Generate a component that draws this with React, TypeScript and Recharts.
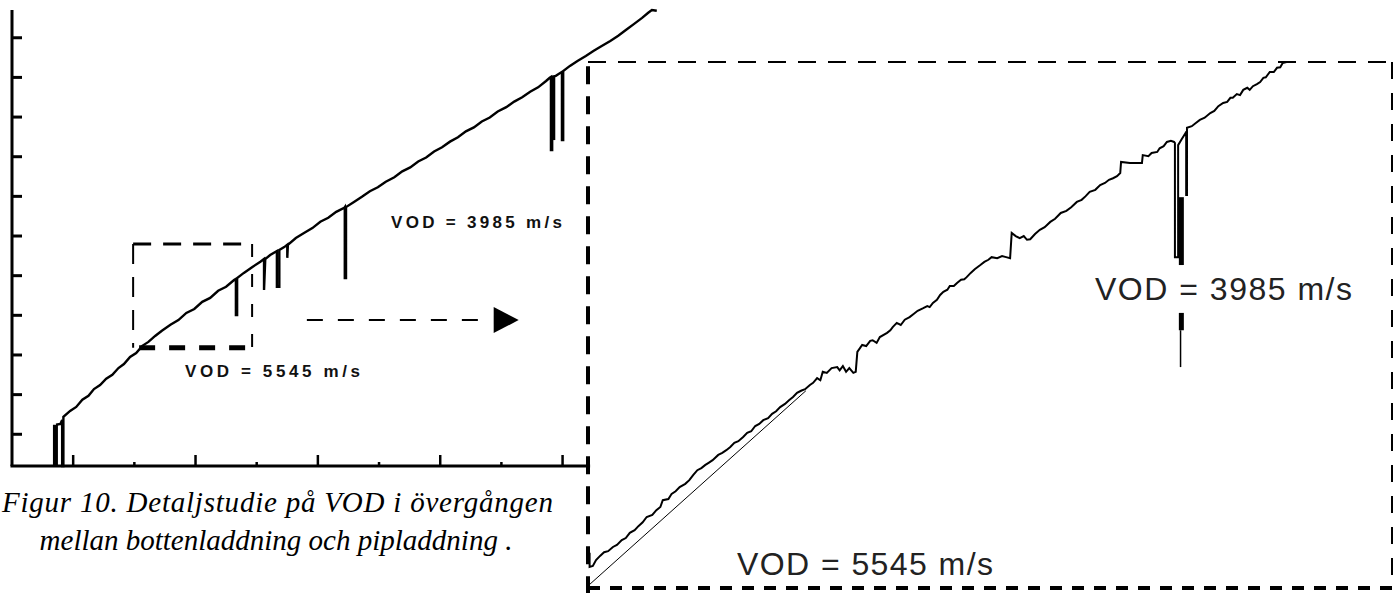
import React from "react";
import { LineChart, Line, XAxis, YAxis, ReferenceLine, ReferenceDot } from "recharts";

type Pt = [number, number];

// left panel: whole trace (time on x, probe position on y), no tick labels in the source
const xTicks = [0, 10, 20, 30, 40, 50, 60, 70, 80];
const yTicks = [10, 20, 30, 40, 50, 60, 70, 80, 90, 100, 110];

const fullTrace: Pt[] = [
  [-2.8, 12.4], [-2.1, 12.6], [-1.8, 13.6], [-1.8, 2.0], [-1.6, 2.0], [-1.6, 14.4],
  [-0.5, 15.9], [0.5, 16.9], [1.5, 18.7], [2.5, 19.7], [3.4, 21.4], [4.4, 22.4],
  [5.4, 24.0], [6.4, 25.0], [7.4, 26.7], [8.3, 27.7], [9.3, 29.5], [10.3, 30.5],
  [11.3, 32.3], [12.3, 33.3], [13.4, 34.8], [14.5, 36.1], [15.9, 37.6], [17.2, 38.8],
  [18.5, 40.6], [19.8, 41.6], [21.1, 43.4], [22.4, 44.4], [23.7, 46.2], [25.0, 47.2],
  [26.3, 48.9], [26.6, 49.2], [26.6, 40.1], [26.8, 40.1], [26.8, 49.4],
  [27.9, 50.7], [29.3, 52.2], [30.6, 53.5],
  [31.2, 54.2], [31.2, 46.4], [31.4, 54.2], [32.2, 55.2],
  [33.3, 56.2], [33.3, 47.2], [33.7, 47.2], [33.7, 56.5], [34.5, 57.2],
  [35.0, 57.8], [35.0, 54.5], [35.1, 57.8],
  [36.4, 59.5], [37.8, 60.8], [39.1, 62.0], [40.4, 63.6], [41.7, 64.6], [43.0, 66.1], [44.3, 67.1],
  [44.4, 67.3], [44.4, 49.4], [44.6, 49.4], [44.6, 67.3],
  [45.9, 68.6], [47.2, 69.9], [48.5, 71.3], [49.8, 72.3], [51.1, 73.7], [52.5, 74.8],
  [53.8, 76.3], [55.1, 77.3], [56.4, 78.8], [57.7, 79.8], [59.0, 81.3], [60.3, 82.4],
  [61.6, 83.8], [62.9, 84.9], [64.2, 86.4], [65.5, 87.4], [66.8, 88.9], [68.1, 89.9],
  [69.4, 91.4], [70.8, 92.5], [72.1, 93.9], [73.4, 95.0], [74.7, 96.4], [76.0, 97.5],
  [77.3, 99.1], [77.9, 99.9],
  [78.1, 100.1], [78.1, 81.7], [78.3, 81.7], [78.3, 100.2],
  [78.9, 100.4], [79.9, 101.4], [79.9, 84.2], [80.1, 84.2], [80.1, 101.6],
  [81.2, 102.9], [82.5, 104.2], [83.8, 105.4], [85.1, 106.7], [86.4, 107.9], [87.8, 109.2],
  [89.1, 110.5], [90.4, 112.0], [91.7, 113.5], [93.0, 115.0], [94.0, 116.3], [94.6, 117.0],
  [95.4, 116.8],
];

// solid dropouts drawn thicker than the trace
const fullTraceBars: Pt[][] = [
  [[-2.9, 2.0], [-2.9, 12.4]],
  [[78.4, 100.1], [78.4, 84.2]],
];

const zoomBox = { x1: 9.8, x2: 29.25, y1: 31.8, y2: 58 };
const arrow = { x1: 38.2, x2: 68.6, y: 38.8, head: 70.7 };
const xAxisEnd = 84.5;

// right panel: enlarged transition, box coordinates 0..100
const detailTrace: Pt[] = [
  [0.2, 6.7], [0.2, 4.0], [0.6, 4.2], [1.0, 5.3], [1.5, 6.1], [2.0, 6.8], [2.5, 7.0],
  [3.1, 7.8], [3.6, 8.2], [4.2, 9.1], [4.7, 9.5], [5.2, 10.5], [5.8, 11.0], [6.3, 11.8],
  [6.8, 12.5], [7.3, 13.5], [8.0, 13.9], [8.5, 14.8], [9.0, 15.4], [9.3, 16.7], [10.0, 16.9],
  [10.4, 17.9], [10.9, 18.4], [11.4, 19.2], [12.1, 19.8], [12.6, 20.5], [13.1, 21.5],
  [13.6, 22.4], [14.1, 22.8], [14.6, 23.4], [15.0, 23.8], [15.5, 24.3], [16.2, 25.3],
  [16.7, 25.7], [17.2, 26.2], [17.7, 26.8], [18.2, 27.6], [18.7, 27.9], [19.3, 28.7],
  [19.8, 29.5], [20.3, 29.8], [20.8, 30.8], [21.3, 31.2], [21.8, 31.9], [22.4, 32.3],
  [22.9, 33.1], [23.4, 33.6], [23.9, 34.4], [24.5, 35.0], [25.0, 35.7], [25.5, 36.3],
  [26.0, 37.1], [26.5, 37.5], [27.0, 37.8], [27.6, 38.6], [28.0, 39.0], [28.5, 39.9],
  [28.9, 39.5], [29.2, 41.1], [29.7, 40.9], [30.3, 41.8], [31.0, 42.0], [31.3, 41.4],
  [31.7, 42.2], [32.1, 41.1], [32.5, 41.8], [33.0, 40.9], [33.3, 41.1],
  [33.5, 44.9], [34.1, 46.2], [34.6, 46.0], [35.1, 47.0], [35.4, 47.1], [35.9, 46.6],
  [36.3, 47.7], [37.2, 48.5], [37.6, 49.0], [37.9, 49.6], [38.4, 50.4], [38.9, 50.0],
  [39.4, 51.0], [40.0, 51.5], [40.5, 52.1], [41.0, 52.7], [41.7, 53.2], [42.2, 53.6],
  [42.5, 53.4], [42.9, 54.2], [43.4, 54.8], [43.8, 55.7], [44.2, 56.3], [44.7, 56.7],
  [45.0, 57.4], [45.5, 57.4], [45.9, 58.0], [46.4, 58.6], [46.8, 58.7], [47.1, 59.1],
  [47.6, 59.9], [48.1, 60.6], [48.8, 61.4], [49.3, 62.0], [49.8, 62.4], [50.2, 62.9],
  [50.9, 62.7], [51.5, 63.1], [52.0, 62.9], [52.5, 62.7],
  [52.7, 67.5], [53.2, 66.9], [53.7, 66.5], [54.2, 66.9], [54.6, 66.2], [55.0, 66.3],
  [55.6, 67.3], [56.2, 68.1], [56.8, 68.6], [57.5, 69.6], [58.1, 70.2], [58.8, 71.3],
  [59.5, 71.7], [60.1, 72.4], [60.8, 73.4], [61.4, 73.8], [61.9, 74.5], [62.4, 75.3],
  [63.1, 75.7], [63.7, 76.6], [64.3, 77.0], [64.8, 77.6], [65.3, 77.9], [65.8, 78.3],
  [66.2, 78.9],
  [66.3, 81.0], [67.4, 80.8], [68.9, 80.8], [69.0, 82.3], [69.7, 82.1], [70.1, 82.7],
  [70.8, 82.9], [71.1, 83.6], [71.6, 84.0], [72.0, 84.8], [72.5, 85.0], [72.9, 84.8],
  [73.0, 84.6], [73.0, 62.9], [73.4, 62.9], [73.4, 84.2], [73.8, 85.2],
  [74.4, 86.7], [74.4, 74.7], [74.5, 74.7], [74.5, 87.5],
  [75.1, 87.8], [75.6, 88.4], [76.1, 89.0], [76.7, 89.4], [77.4, 90.3], [77.9, 90.7],
  [78.4, 91.6], [79.0, 92.2], [79.5, 92.4], [79.9, 93.2], [80.2, 93.2], [80.7, 93.9],
  [81.1, 93.7], [81.5, 94.7], [82.0, 95.1], [82.3, 94.7], [82.7, 95.4], [83.2, 95.8],
  [83.6, 96.2], [84.0, 97.0], [84.3, 97.1], [84.8, 98.1], [85.3, 98.1], [85.7, 98.9],
  [86.1, 99.0], [86.4, 99.8], [86.9, 100.0],
];

const detailBars: Pt[][] = [
  [[73.8, 74.3], [73.8, 61.4]],
  [[73.8, 52.3], [73.8, 49.0]],
];
const detailTail: Pt[] = [[73.7, 49.0], [73.7, 42.0]];
const fit5545: Pt[] = [[0, 0.4], [27.1, 37.5]];

const rows = (pts: Pt[]) => pts.map(([x, y]) => ({ x, y }));

const XTick = (props: any) => {
  const { x, y, payload } = props;
  const len = payload.value % 20 === 0 ? 11 : 4;
  return <line x1={x} y1={y} x2={x} y2={y - len} stroke="#000" strokeWidth={2.5} />;
};

const YTick = (props: any) => {
  const { x, y } = props;
  return <line x1={x} y1={y} x2={x + 10} y2={y} stroke="#000" strokeWidth={3} />;
};

const Arrowhead = (props: any) => {
  const { cx, cy } = props;
  return (
    <polygon
      points={`${cx - 12},${cy - 13} ${cx + 13},${cy} ${cx - 12},${cy + 13}`}
      fill="#000"
    />
  );
};

const seg = (x1: number, y1: number, x2: number, y2: number) => [
  { x: x1, y: y1 },
  { x: x2, y: y2 },
];

export default function App() {
  const labelFont = "'Liberation Sans', Arial, sans-serif";
  return (
    <div
      style={{
        position: "fixed",
        left: 0,
        top: 0,
        width: 1400,
        height: 593,
        background: "#fff",
        overflow: "hidden",
      }}
    >
      <div style={{ position: "absolute", left: 0, top: 0 }}>
        <LineChart width={660} height={480} margin={{ top: 10, right: 2, bottom: 4, left: 2 }}>
          <XAxis
            type="number"
            dataKey="x"
            domain={[-10, 95.6]}
            ticks={xTicks}
            interval={0}
            height={10}
            tickSize={0}
            tickMargin={0}
            tickLine={false}
            axisLine={false}
            tick={XTick}
          />
          <YAxis
            type="number"
            dataKey="y"
            domain={[2, 117]}
            ticks={yTicks}
            interval={0}
            width={10}
            tickSize={0}
            tickMargin={0}
            tickLine={false}
            axisLine={{ stroke: "#000", strokeWidth: 3 }}
            tick={YTick}
          />
          <ReferenceLine
            segment={seg(-10.25, 2, xAxisEnd, 2)}
            stroke="#000"
            strokeWidth={3}
            ifOverflow="visible"
          />
          {/* small zoom box */}
          <ReferenceLine segment={seg(zoomBox.x1, zoomBox.y2, zoomBox.x2, zoomBox.y2)} stroke="#000" strokeWidth={3} strokeDasharray="18 12" ifOverflow="visible" />
          <ReferenceLine segment={seg(zoomBox.x1, zoomBox.y2, zoomBox.x1, zoomBox.y1)} stroke="#000" strokeWidth={2} strokeDasharray="20 13" ifOverflow="visible" />
          <ReferenceLine segment={seg(zoomBox.x2, zoomBox.y2, zoomBox.x2, zoomBox.y1)} stroke="#000" strokeWidth={2} strokeDasharray="13 17" ifOverflow="visible" />
          <ReferenceLine segment={seg(zoomBox.x1, zoomBox.y1, zoomBox.x2, zoomBox.y1)} stroke="#000" strokeWidth={5} strokeDasharray="16 14" strokeDashoffset={-6} ifOverflow="visible" />
          {/* arrow towards the detail panel */}
          <ReferenceLine segment={seg(arrow.x1, arrow.y, arrow.x2, arrow.y)} stroke="#000" strokeWidth={2} strokeDasharray="16 15" ifOverflow="visible" />
          <ReferenceDot x={arrow.head} y={arrow.y} r={12} shape={Arrowhead} ifOverflow="visible" />

          <Line
            data={rows(fullTrace)}
            dataKey="y"
            type="linear"
            stroke="#000"
            strokeWidth={2.4}
            dot={false}
            activeDot={false}
            isAnimationActive={false}
          />
          {fullTraceBars.map((b, i) => (
            <Line
              key={i}
              data={rows(b)}
              dataKey="y"
              type="linear"
              stroke="#000"
              strokeWidth={5}
              dot={false}
              activeDot={false}
              isAnimationActive={false}
            />
          ))}
        </LineChart>
      </div>

      <div style={{ position: "absolute", left: 580, top: 54 }}>
        <LineChart width={821} height={539} margin={{ top: 8, right: 9, bottom: 5, left: 8 }}>
          <XAxis type="number" dataKey="x" domain={[0, 100]} hide />
          <YAxis type="number" dataKey="y" domain={[0, 100]} hide />
          <ReferenceLine segment={seg(0, -1.2, 0, 100)} stroke="#000" strokeWidth={4} strokeDasharray="18 12" ifOverflow="visible" />
          <ReferenceLine segment={seg(0, 100, 100, 100)} stroke="#000" strokeWidth={2} strokeDasharray="18 12" ifOverflow="visible" />
          <ReferenceLine segment={seg(100, 100, 100, 0)} stroke="#000" strokeWidth={2} strokeDasharray="17 14" ifOverflow="visible" />
          <ReferenceLine segment={seg(0, 0, 100, 0)} stroke="#000" strokeWidth={4} strokeDasharray="12 10" ifOverflow="visible" />
          <Line
            data={rows(fit5545)}
            dataKey="y"
            type="linear"
            stroke="#000"
            strokeWidth={1}
            dot={false}
            activeDot={false}
            isAnimationActive={false}
          />
          <Line
            data={rows(detailTrace)}
            dataKey="y"
            type="linear"
            stroke="#000"
            strokeWidth={2}
            dot={false}
            activeDot={false}
            isAnimationActive={false}
          />
          {detailBars.map((b, i) => (
            <Line
              key={i}
              data={rows(b)}
              dataKey="y"
              type="linear"
              stroke="#000"
              strokeWidth={5}
              dot={false}
              activeDot={false}
              isAnimationActive={false}
            />
          ))}
          <Line
            data={rows(detailTail)}
            dataKey="y"
            type="linear"
            stroke="#000"
            strokeWidth={1.5}
            dot={false}
            activeDot={false}
            isAnimationActive={false}
          />
        </LineChart>
      </div>

      <svg
        width={1400}
        height={593}
        style={{ position: "absolute", left: 0, top: 0, pointerEvents: "none" }}
      >
        <g fontFamily={labelFont} fill="#111" fontWeight={600} fontSize={17}>
          <text x={391} y={228} textLength={171} lengthAdjust="spacing">VOD = 3985 m/s</text>
          <text x={185} y={377} textLength={175} lengthAdjust="spacing">VOD = 5545 m/s</text>
        </g>
        <g fontFamily={labelFont} fill="#222" fontSize={32}>
          <text x={1095} y={300} textLength={257} lengthAdjust="spacing">VOD = 3985 m/s</text>
          <text x={737} y={575} textLength={256} lengthAdjust="spacing">VOD = 5545 m/s</text>
        </g>
        <g fontFamily="'Liberation Serif', 'Times New Roman', serif" fontStyle="italic" fontSize={29} fill="#000">
          <text x={2} y={512} textLength={551} lengthAdjust="spacing">
            Figur 10. Detaljstudie på VOD i övergången
          </text>
          <text x={276} y={550} textAnchor="middle">
            mellan bottenladdning och pipladdning .
          </text>
        </g>
      </svg>
    </div>
  );
}
